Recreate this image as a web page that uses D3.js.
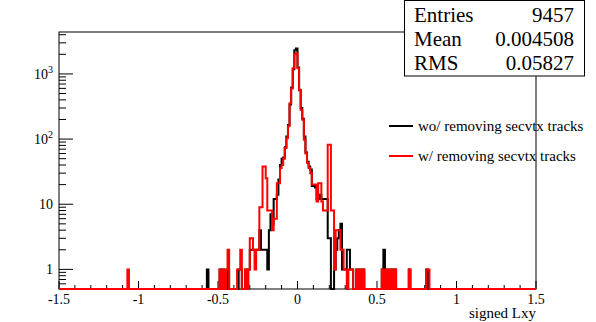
<!DOCTYPE html>
<html><head><meta charset="utf-8">
<script src="https://cdn.jsdelivr.net/npm/d3@7"></script>
<style>html,body{margin:0;padding:0;background:#fff;}svg{display:block;}text{font-family:"Liberation Serif","Times New Roman",serif;}</style>
</head><body>
<script>
// ---- data ----
const xMin = -1.5, xMax = 1.5, binWidth = 0.01;
const tailStart = -0.60; // lower edge of first bin of the arrays below
const blackCounts = [
  0,0,0,1,0,0,0,0,0,0,
  0,1,0,1,0,0,1,0,0,0,
  0,0,0,1,1,0,0,1,0,1,
  2,2,2,2,2,2,4,2,2,2,
  2,1,4,7,5,12,12,14,24,40,
  50,52,75,110,165,340,620,1180,2300,2450,
  1250,560,300,205,110,62,45,38,34,19,
  19,18,12,12,14,12,12,12,12,3,
  3,0,0,1,2,3,4,5,1,1,
  1,2,2,1,1,0,0,1,0,1,
  0,1,0,0,0,0,0,0,0,0,
  0,0,0,1,2,1,0,1,0,1,
  0,1,0,0,0,0,0,0,0,0,
  1,0,0,0,0,0,0,0,0,0,
  0,1,0,0,0,0,0,0,0,0
];
const redCounts = [
  0,0,0,0,0,0,0,0,0,0,
  0,1,0,1,0,1,2,0,0,0,
  0,0,1,1,2,0,0,1,0,1,
  3,3,2,1,2,2,9,9,38,38,
  25,8,8,8,4,6,6,21,21,36,
  40,50,73,104,157,355,600,1220,2000,2080,
  1220,570,280,198,98,60,43,36,30,20,
  20,20,11,21,21,11,8,8,8,82,
  82,8,8,1,4,4,4,2,2,1,
  1,0,1,1,1,0,0,1,0,1,
  0,1,0,0,0,0,0,0,0,0,
  0,0,0,1,0,1,0,1,0,1,
  0,1,0,0,0,0,0,0,0,0,
  1,0,0,0,0,0,0,0,0,0,
  0,1,1,0,0,0,0,0,0,0
];
const outlierBins = [-1.07];
const outlierRed = [1];
const outlierBlack = [0];
const xTickLabels = ["-1.5","-1","-0.5","0","0.5","1","1.5"];
const xTickValues = [-1.5,-1,-0.5,0,0.5,1,1.5];
const yDecades = [1,10,100,1000];
const legendLabels = ["wo/ removing secvtx tracks","w/ removing secvtx tracks"];
const statNames = ["Entries","Mean","RMS"];
const statValues = ["9457","0.004508","0.05827"];
const xTitle = "signed Lxy";

// ---- build histograms ----
const nBins = Math.round((xMax - xMin) / binWidth);
function buildHist(tail, outVals) {
  const bins = [];
  for (let i = 0; i < nBins; i++) {
    const lo = xMin + i * binWidth;
    const k = Math.round((lo - tailStart) / binWidth);
    let c = (k >= 0 && k < tail.length) ? tail[k] : 0;
    outlierBins.forEach((b, j) => { if (Math.round((b - xMin) / binWidth) === i) c += outVals[j]; });
    bins.push({lo: lo, hi: lo + binWidth, c: c});
  }
  return bins;
}
const histBlack = buildHist(blackCounts, outlierBlack);
const histRed = buildHist(redCounts, outlierRed);

// ---- layout ----
const W = 596, H = 322;
const fL = 59, fR = 536, fT = 32, fB = 289;
const serif = "\"Liberation Serif\", \"Times New Roman\", serif";

const svg = d3.select("body").append("svg").attr("width", W).attr("height", H);
svg.append("rect").attr("width", W).attr("height", H).attr("fill", "#fff");

const x = d3.scaleLinear().domain([xMin, xMax]).range([fL, fR]);
const y = d3.scaleLog().domain([0.5, 4400]).range([fB, fT]).clamp(true);

// frame
svg.append("rect").attr("x", fL).attr("y", fT).attr("width", fR - fL).attr("height", fB - fT)
  .attr("fill", "none").attr("stroke", "#000").attr("stroke-width", 1);

// x axis ticks
const xMinor = d3.range(-15, 16).map(d => d / 10);
const gx = svg.append("g");
xMinor.forEach(v => {
  const major = Math.abs(v * 2 - Math.round(v * 2)) < 1e-9;
  gx.append("line").attr("x1", x(v)).attr("x2", x(v)).attr("y1", fB).attr("y2", fB - (major ? 8 : 4))
    .attr("stroke", "#000").attr("stroke-width", 1);
});
xTickValues.forEach((v, i) => {
  gx.append("text").attr("x", x(v)).attr("y", 304).attr("text-anchor", "middle")
    .style("font-family", serif).attr("font-size", 14).text(xTickLabels[i]);
});
svg.append("text").attr("x", fR).attr("y", 318).attr("text-anchor", "end")
  .style("font-family", serif).attr("font-size", 15).text(xTitle);

// y axis ticks
const gy = svg.append("g");
const yTicks = [];
[0.1, 1, 10, 100, 1000].forEach(d => { for (let m = 1; m <= 9; m++) yTicks.push(d * m); });
yTicks.filter(v => v >= 0.5 && v <= 4400).forEach(v => {
  const major = yDecades.includes(v);
  gy.append("line").attr("x1", fL).attr("x2", fL + (major ? 14 : 7)).attr("y1", y(v)).attr("y2", y(v))
    .attr("stroke", "#000").attr("stroke-width", 1);
});
yDecades.forEach(v => {
  const e = Math.round(Math.log10(v));
  const t = gy.append("text").attr("x", 53).attr("y", y(v) + 5).attr("text-anchor", "end")
    .style("font-family", serif).attr("font-size", 14);
  if (e <= 1) t.text(String(v));
  else {
    t.append("tspan").text("10");
    t.append("tspan").attr("font-size", 10).attr("dy", -6).text(String(e));
  }
});

// histograms
function histPath(bins) {
  const pts = [[x(xMin), fB]];
  bins.forEach(b => {
    const yy = b.c > 0 ? y(b.c) : fB;
    pts.push([x(b.lo), yy]);
    pts.push([x(b.hi), yy]);
  });
  pts.push([x(xMax), fB]);
  return d3.line()(pts);
}
svg.append("path").attr("d", histPath(histBlack)).attr("fill", "none").attr("stroke", "#000")
  .attr("stroke-width", 2).attr("stroke-linejoin", "miter");
svg.append("path").attr("d", histPath(histRed)).attr("fill", "none").attr("stroke", "#ff0000")
  .attr("stroke-width", 2).attr("stroke-linejoin", "miter");

// legend
const legColors = ["#000", "#ff0000"];
const legY = [126, 156];
legendLabels.forEach((lab, i) => {
  svg.append("line").attr("x1", 389).attr("x2", 413).attr("y1", legY[i]).attr("y2", legY[i])
    .attr("stroke", legColors[i]).attr("stroke-width", 2);
  svg.append("text").attr("x", 418).attr("y", legY[i] + 5).style("font-family", serif)
    .attr("font-size", 15).text(lab);
});

// stats box
svg.append("rect").attr("x", 404.5).attr("y", 0.5).attr("width", 180).attr("height", 75.5)
  .attr("fill", "#fff").attr("stroke", "#000").attr("stroke-width", 1);
statNames.forEach((n, i) => {
  const by = 22 + i * 24;
  svg.append("text").attr("x", 414).attr("y", by).style("font-family", serif).attr("font-size", 21).text(n);
  svg.append("text").attr("x", 574).attr("y", by).attr("text-anchor", "end").style("font-family", serif)
    .attr("font-size", 21).text(statValues[i]);
});
</script>
</body></html>
